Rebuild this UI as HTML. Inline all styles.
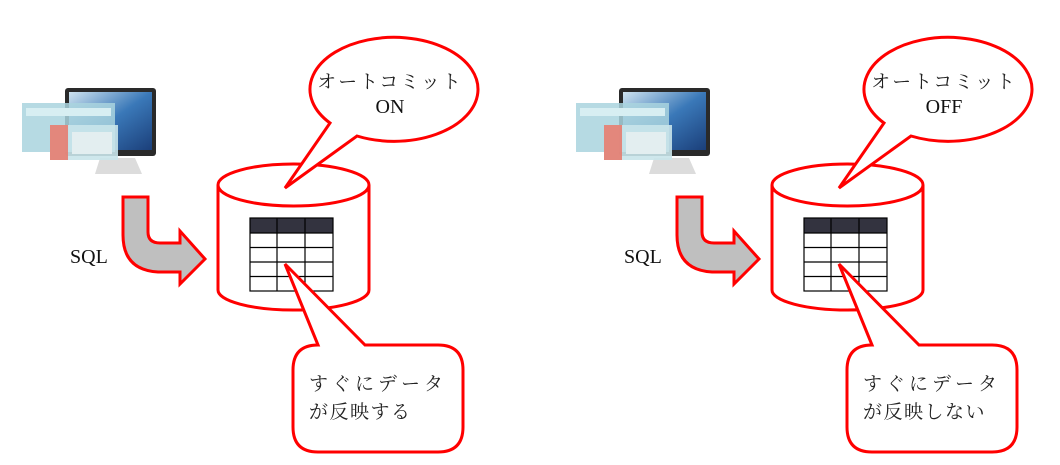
<!DOCTYPE html>
<html><head><meta charset="utf-8"><style>
html,body{margin:0;padding:0;background:#fff;}
svg{display:block;}
text{font-family:"Liberation Serif","Noto Serif CJK SC","Noto Sans CJK JP",serif;fill:#111;}
.jp{font-family:"Noto Serif CJK SC","Noto Sans CJK JP",serif;fill:#222;}
</style></head><body>
<svg width="1060" height="465" viewBox="0 0 1060 465" xmlns="http://www.w3.org/2000/svg">
<defs>
<linearGradient id="scr" x1="0" y1="0" x2="1" y2="1">
<stop offset="0" stop-color="#cfe3ef"/><stop offset="0.5" stop-color="#3a78b8"/><stop offset="1" stop-color="#1b3f7a"/>
</linearGradient>
<g id="unit">
<path d="M100 158 L135 158 L142 174 L95 174 Z" fill="#dcdcdc"/>
<rect x="65" y="88" width="91" height="68" rx="3" fill="#2a2a2a"/>
<rect x="69" y="92" width="83" height="58" fill="url(#scr)"/>
<rect x="22" y="103" width="93" height="49" fill="#a9d4de" opacity="0.85"/>
<rect x="26" y="108" width="85" height="8" fill="#d7eef2"/>
<rect x="50" y="125" width="68" height="35" fill="#c9e4ea" opacity="0.9"/>
<rect x="50" y="125" width="18" height="35" fill="#e57c70" opacity="0.9"/>
<rect x="72" y="132" width="40" height="22" fill="#e3eef0"/>
<path d="M123 197 L148 197 L148 232 Q148 243 160 243 L180 243 L180 231 L205 259 L180 284 L180 272 L158 272 Q123 270 123 235 Z" fill="#bfbfbf" stroke="#ff0000" stroke-width="3" stroke-linejoin="miter"/>
<text x="70" y="263" font-size="20">SQL</text>
<path d="M218 185 L218 290 A75.5 20 0 0 0 369 290 L369 185" fill="#fff" stroke="#ff0000" stroke-width="3"/>
<ellipse cx="293.5" cy="185" rx="75.5" ry="21" fill="#fff" stroke="#ff0000" stroke-width="3"/>
<rect x="250" y="218" width="83" height="15" fill="#33333f"/>
<g stroke="#000" stroke-width="1.2" fill="none">
<rect x="250" y="218" width="83" height="73"/>
<line x1="250" y1="233" x2="333" y2="233"/>
<line x1="250" y1="247.5" x2="333" y2="247.5"/>
<line x1="250" y1="262" x2="333" y2="262"/>
<line x1="250" y1="276.5" x2="333" y2="276.5"/>
<line x1="277" y1="218" x2="277" y2="291"/>
<line x1="305" y1="218" x2="305" y2="291"/>
</g>
<path d="M330 123 A84 52 0 1 1 357 136 L285 188 Z" fill="#fff" stroke="#ff0000" stroke-width="3" stroke-linejoin="miter"/>
<text class="jp" x="390" y="88" font-size="19" text-anchor="middle" letter-spacing="2">オートコミット</text>
</g>
</defs>
<use href="#unit"/>
<use href="#unit" x="554"/>
<g fill="#fff" stroke="#ff0000" stroke-width="3" stroke-linejoin="miter">
<path d="M318 345 L285 264 L365 345 L438 345 Q463 345 463 370 L463 427 Q463 452 438 452 L318 452 Q293 452 293 427 L293 370 Q293 345 318 345 Z"/>
<path d="M872 345 L839 264 L919 345 L992 345 Q1017 345 1017 370 L1017 427 Q1017 452 992 452 L872 452 Q847 452 847 427 L847 370 Q847 345 872 345 Z"/>
</g>
<text x="390" y="113" font-size="20" text-anchor="middle">ON</text>
<text x="944" y="113" font-size="20" text-anchor="middle">OFF</text>
<text class="jp" x="309" y="390" font-size="19" letter-spacing="4">すぐにデータ</text>
<text class="jp" x="309" y="418" font-size="19" letter-spacing="1.5">が反映する</text>
<text class="jp" x="863" y="390" font-size="19" letter-spacing="4">すぐにデータ</text>
<text class="jp" x="863" y="418" font-size="19" letter-spacing="1.5">が反映しない</text>
</svg>
</body></html>
